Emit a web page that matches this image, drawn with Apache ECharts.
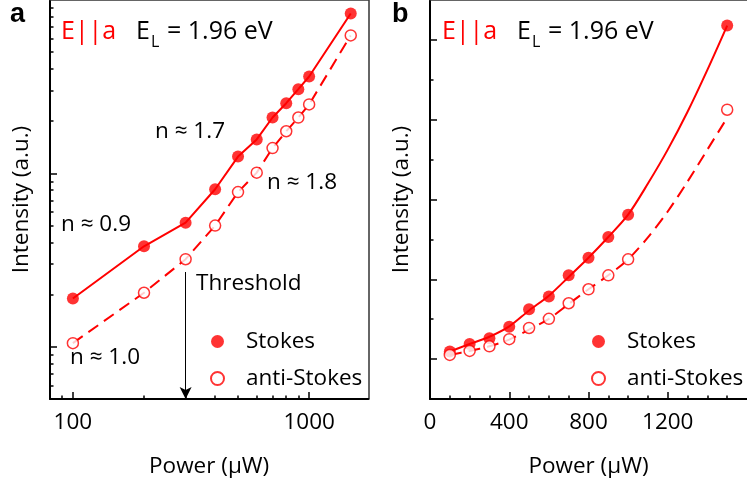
<!DOCTYPE html>
<html><head><meta charset="utf-8">
<script src="https://cdn.jsdelivr.net/npm/echarts@6/dist/echarts.min.js"></script>
<style>html,body{margin:0;padding:0;background:#fff}#c{width:747px;height:486px}</style>
</head><body><div id="c"></div>
<script>
// ---- data ----
const power = [100, 200, 300, 400, 500, 600, 700, 800, 900, 1000, 1500];
const stokes = [1.9, 3.8, 5.2, 8.1, 12.5, 15.7, 21.0, 25.4, 30.6, 36.2, 83.6];
const antiStokes = [1.05, 2.05, 3.2, 5.0, 7.8, 10.1, 14.0, 17.5, 21.0, 25.0, 62.5];
// fitted curves of panel b
const curvePowerB = [100, 200, 300, 400, 500, 600, 700, 800, 900, 1000, 1100, 1200, 1300, 1400, 1500];
const curveStokesB = [1.9, 3.8, 5.6, 8.2, 12.2, 15.9, 20.6, 25.4, 30.6, 36.2, 44.0, 52.5, 62.0, 72.5, 83.6];
const curveAntiB = [1.05, 2.05, 3.2, 4.9, 7.4, 10.1, 13.8, 17.5, 21.0, 25.0, 30.5, 37.0, 44.5, 52.5, 60.5];
const thresholdPower = 300;
const thresholdTop = 2.7;
// tick values
const xMajorA = [100, 1000];
const xMinorA = [90, 200, 300, 400, 500, 600, 700, 800, 900];
const yMajorA = [1, 10];
const yMinorA = [0.6, 0.7, 0.8, 0.9, 2, 3, 4, 5, 6, 7, 8, 9, 20, 30, 40, 50, 60, 70, 80, 90];
const xMajorB = [0, 400, 800, 1200];
const xMinorB = [100, 200, 300, 500, 600, 700, 900, 1000, 1100, 1300, 1400, 1500];
const yMajorB = [0, 20, 40, 60, 80];
const yMinorB = [10, 30, 50, 70];

const F = '"Open Sans", sans-serif';
const FS = 22.5;
const RED = '#ff0000';
const pairs = (xs, ys) => xs.map((x, i) => [x, ys[i]]);

function xAxes(grid, type, min, max, major, minor, labels) {
  const base = { gridIndex: grid, type: type, min: min, max: max, splitLine: { show: false }, logBase: 10 };
  return [
    Object.assign({}, base, {
      position: 'bottom',
      axisLine: { show: true, onZero: false, lineStyle: { color: '#000', width: 2 } },
      axisTick: { show: true, inside: true, length: 7, customValues: major, lineStyle: { color: '#000', width: 1.5 } },
      axisLabel: { show: true, customValues: labels, margin: 12, color: '#000', fontFamily: F, fontSize: FS, formatter: v => String(v) },
      name: 'Power (\u00b5W)', nameLocation: 'middle', nameGap: 56,
      nameTextStyle: { color: '#000', fontFamily: F, fontSize: FS }
    }),
    Object.assign({}, base, {
      position: 'bottom',
      axisLine: { show: false, onZero: false },
      axisTick: { show: true, inside: true, length: 3.5, customValues: minor, lineStyle: { color: '#000', width: 1.5 } },
      axisLabel: { show: false }
    }),
    Object.assign({}, base, {
      position: 'top',
      axisLine: { show: true, onZero: false, lineStyle: { color: '#333', width: 1.5 } },
      axisTick: { show: false }, axisLabel: { show: false }
    })
  ];
}
function yAxes(grid, type, min, max, major, minor, border) {
  const base = { gridIndex: grid, type: type, min: min, max: max, splitLine: { show: false }, logBase: 10 };
  const arr = [
    Object.assign({}, base, {
      position: 'left',
      axisLine: { show: true, onZero: false, lineStyle: { color: '#000', width: 2 } },
      axisTick: { show: true, inside: true, length: 7, customValues: major, lineStyle: { color: '#000', width: 1.5 } },
      axisLabel: { show: false },
      name: 'Intensity (a.u.)', nameLocation: 'middle', nameGap: 17,
      nameTextStyle: { color: '#000', fontFamily: F, fontSize: FS }
    }),
    Object.assign({}, base, {
      position: 'left',
      axisLine: { show: false, onZero: false },
      axisTick: { show: true, inside: true, length: 3.5, customValues: minor, lineStyle: { color: '#000', width: 1.5 } },
      axisLabel: { show: false }
    })
  ];
  if (border) arr.push(Object.assign({}, base, {
    position: 'right',
    axisLine: { show: true, onZero: false, lineStyle: { color: '#333', width: 1.5 } },
    axisTick: { show: false }, axisLabel: { show: false }
  }));
  return arr;
}

const xAxis = xAxes(0, 'log', 80, 1780, xMajorA, xMinorA, xMajorA)
  .concat(xAxes(1, 'value', 0, 1600, xMajorB, xMinorB, xMajorB));
const yAxis = yAxes(0, 'log', 0.5, 100, yMajorA, yMinorA, true)
  .concat(yAxes(1, 'value', -10, 90, yMajorB, yMinorB, false));
// x indices: a -> 0, b -> 3 ; y indices: a -> 0, b -> 3

function lineS(xi, yi, data, dashed, smooth, extra) {
  return Object.assign({
    type: 'line', xAxisIndex: xi, yAxisIndex: yi, data: data, smooth: smooth,
    showSymbol: false, silent: true, z: 2,
    lineStyle: { color: RED, width: 2, type: dashed ? [12, 7] : 'solid' }
  }, extra || {});
}
function pointS(xi, yi) {
  return [
    { name: 'Stokes', type: 'scatter', xAxisIndex: xi, yAxisIndex: yi, data: pairs(power, stokes),
      symbol: 'circle', symbolSize: 12, itemStyle: { color: RED }, z: 3 },
    { name: 'anti-Stokes', type: 'scatter', xAxisIndex: xi, yAxisIndex: yi, data: pairs(power, antiStokes),
      symbol: 'circle', symbolSize: 11, itemStyle: { color: '#fff', borderColor: RED, borderWidth: 1.5 }, z: 3 }
  ];
}

const seriesA = [
  lineS(0, 0, pairs(power, stokes), false, false, {
    markLine: {
      silent: true, symbol: ['none', 'arrow'], symbolSize: [9, 12], label: { show: false },
      lineStyle: { color: '#000', width: 1, type: 'solid' },
      data: [[{ coord: [thresholdPower, thresholdTop] }, { coord: [thresholdPower, 0.5] }]]
    }
  }),
  lineS(0, 0, pairs(power, antiStokes), true, false)
].concat(pointS(0, 0));
const seriesB = [
  lineS(3, 3, pairs(curvePowerB, curveStokesB), false, 0.3),
  lineS(3, 3, pairs(curvePowerB, curveAntiB), true, 0.3)
].concat(pointS(3, 3));

function legendAt(left) {
  return {
    left: left, top: 325, orient: 'vertical', icon: 'circle', itemWidth: 13, itemHeight: 13, itemGap: 14,
    data: ['Stokes', 'anti-Stokes'], selectedMode: false,
    textStyle: { color: '#000', fontFamily: F, fontSize: FS, padding: [0, 0, 0, 17] }
  };
}

function txt(x, y, s, opt) {
  return { type: 'text', x: x, y: y, silent: true,
    style: Object.assign({ text: s, fill: '#000', font: FS + 'px ' + F, textVerticalAlign: 'middle' }, opt || {}) };
}
function header(x0) {
  return [
    txt(x0 + 0, 32, 'E||a', { fill: RED, font: '25px ' + F }),
    txt(x0 + 75, 32, 'E', { font: '25px ' + F }),
    txt(x0 + 90, 42, 'L', { font: '16px ' + F }),
    txt(x0 + 106, 32, '= 1.96 eV', { font: '25px ' + F })
  ];
}

const option = {
  animation: false,
  backgroundColor: '#fff',
  grid: [
    { left: 50, right: 378.7, top: 0, bottom: 87 },
    { left: 430, right: -3, top: 0, bottom: 87 }
  ],
  xAxis: xAxis,
  yAxis: yAxis,
  legend: [legendAt(205), legendAt(586)],
  series: seriesA.concat(seriesB),
  graphic: [
    txt(10, 15, 'a', { font: 'bold 27px "Liberation Sans", Arial, sans-serif' }),
    txt(392, 15, 'b', { font: 'bold 27px "Liberation Sans", Arial, sans-serif' }),
    txt(155, 132, 'n \u2248 1.7'),
    txt(267, 183, 'n \u2248 1.8'),
    txt(61, 225, 'n \u2248 0.9'),
    txt(70, 358, 'n \u2248 1.0'),
    txt(196, 284, 'Threshold')
  ].concat(header(61), header(442))
};
const chart = echarts.init(document.getElementById('c'), null, { renderer: 'canvas' });
chart.setOption(option);
</script></body></html>
